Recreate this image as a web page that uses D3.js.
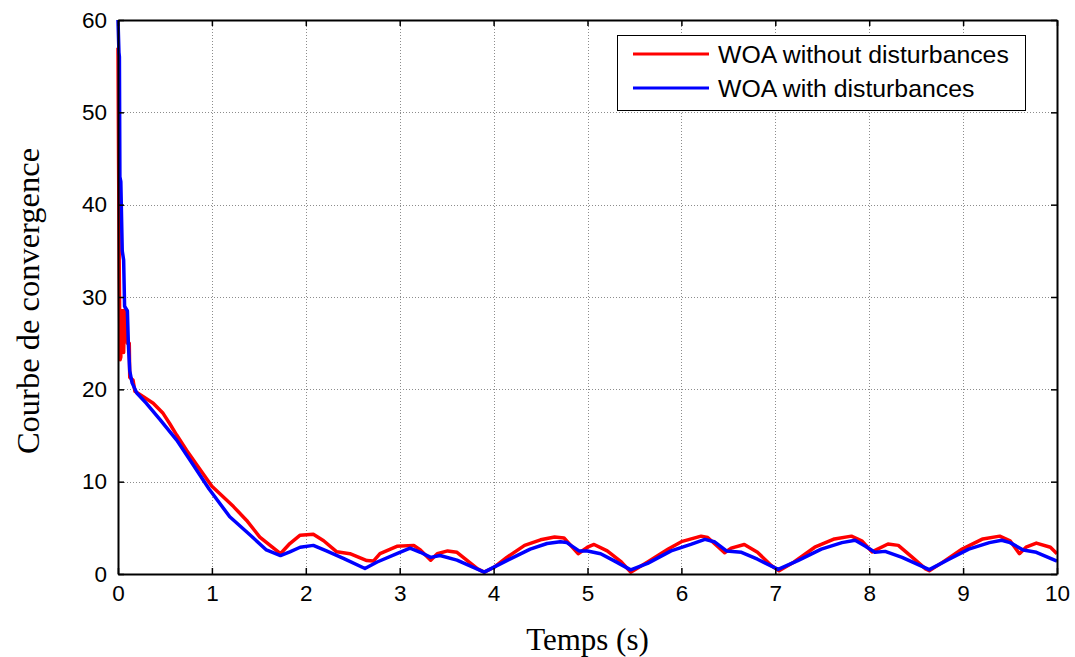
<!DOCTYPE html>
<html>
<head>
<meta charset="utf-8">
<script src="https://cdn.jsdelivr.net/npm/d3@7/dist/d3.min.js"></script>
<style>
  html, body { margin: 0; padding: 0; background: #fff; }
  svg { display: block; }
</style>
</head>
<body>
<svg id="chart" width="1075" height="657"></svg>
<script>
// Convergence curves of the WOA controller, time in seconds
const tRed = [0, 0.006, 0.014, 0.022, 0.03, 0.035, 0.055, 0.06, 0.07, 0.095, 0.1, 0.12, 0.125, 0.16, 0.18,
  0.27, 0.375, 0.48, 0.55, 0.625, 0.73, 0.84, 1.0, 1.23, 1.37, 1.51, 1.62, 1.73, 1.83, 1.94, 2.08, 2.19,
  2.33, 2.47, 2.65, 2.72, 2.79, 2.97, 3.15, 3.22, 3.33, 3.4, 3.51, 3.61, 3.72, 3.83, 3.9, 4.0, 4.14, 4.33,
  4.5, 4.65, 4.75, 4.9, 5.0, 5.07, 5.21, 5.36, 5.46, 5.64, 5.86, 6.0, 6.21, 6.28, 6.46, 6.53, 6.67, 6.81,
  6.96, 7.04, 7.2, 7.42, 7.63, 7.81, 7.92, 8.03, 8.2, 8.31, 8.46, 8.6, 8.64, 8.78, 8.99, 9.21, 9.39, 9.5,
  9.6, 9.67, 9.78, 9.93, 10];
const vRed = [57, 45, 32, 23.2, 23.5, 28.5, 28.5, 24, 28.6, 28.5, 25, 25, 21.3, 21, 19.8,
  19.2, 18.5, 17.4, 16.3, 15.05, 13.4, 11.8, 9.5, 7.3, 5.8, 4.0, 3.1, 2.2, 3.3, 4.2, 4.3, 3.6,
  2.4, 2.2, 1.45, 1.4, 2.2, 3.0, 3.1, 2.6, 1.5, 2.2, 2.5, 2.35, 1.45, 0.55, 0.2, 0.7, 1.8, 3.1,
  3.7, 4.0, 3.9, 2.2, 2.9, 3.2, 2.5, 1.3, 0.2, 1.3, 2.7, 3.5, 4.1, 3.95, 2.3, 2.8, 3.2, 2.35,
  0.9, 0.36, 1.3, 2.9, 3.8, 4.1, 3.6, 2.4, 3.25, 3.1, 1.8, 0.55, 0.36, 1.26, 2.7, 3.8, 4.1, 3.6,
  2.2, 2.9, 3.35, 2.9, 2.2];

const tBlue = [0, 0.01, 0.015, 0.02, 0.03, 0.045, 0.06, 0.07, 0.1, 0.11, 0.125, 0.15, 0.2, 0.3, 0.45,
  0.625, 0.77, 0.97, 1.19, 1.41, 1.58, 1.73, 1.83, 1.94, 2.08, 2.22, 2.4, 2.63, 2.76, 2.97, 3.11, 3.22,
  3.33, 3.43, 3.61, 3.9, 4.14, 4.39, 4.57, 4.71, 4.78, 4.91, 5.0, 5.14, 5.28, 5.46, 5.64, 5.89, 6.1,
  6.25, 6.35, 6.48, 6.64, 6.81, 7.03, 7.24, 7.49, 7.71, 7.85, 7.96, 8.06, 8.17, 8.35, 8.64, 8.85, 9.06,
  9.28, 9.41, 9.5, 9.64, 9.78, 10];
const vBlue = [60, 56.5, 56, 43, 42.5, 35, 34, 29, 28.5, 25, 22, 20.7, 19.6, 18.5, 16.7,
  14.5, 12.3, 9.2, 6.2, 4.2, 2.6, 2.0, 2.4, 2.9, 3.1, 2.5, 1.7, 0.6, 1.3, 2.2, 2.8, 2.35,
  1.8, 2.0, 1.5, 0.2, 1.45, 2.7, 3.3, 3.5, 3.4, 2.5, 2.5, 2.2, 1.45, 0.45, 1.15, 2.5, 3.2,
  3.75, 3.5, 2.5, 2.35, 1.6, 0.5, 1.45, 2.7, 3.4, 3.65, 3.0, 2.35, 2.45, 1.8, 0.47, 1.6, 2.7,
  3.4, 3.65, 3.4, 2.6, 2.35, 1.4];

const xTicks = [0, 1, 2, 3, 4, 5, 6, 7, 8, 9, 10];
const yTicks = [0, 10, 20, 30, 40, 50, 60];
const seriesNames = ["WOA without disturbances", "WOA with disturbances"];
const seriesColors = ["#ff0000", "#0000ff"];

const svg = d3.select("#chart");
const plotL = 118, plotR = 1057, plotT = 20, plotB = 574;

const x = d3.scaleLinear().domain([0, 10]).range([plotL, plotR]);
const y = d3.scaleLinear().domain([0, 60]).range([plotB, plotT]);

// dotted grid
const grid = svg.append("g").attr("stroke", "#8c8c8c").attr("stroke-width", 1)
  .attr("stroke-dasharray", "1,2");
xTicks.slice(1, -1).forEach(t => {
  grid.append("line").attr("x1", Math.round(x(t)) + 0.5).attr("x2", Math.round(x(t)) + 0.5)
    .attr("y1", plotT).attr("y2", plotB);
});
yTicks.slice(1, -1).forEach(t => {
  grid.append("line").attr("y1", Math.round(y(t)) + 0.5).attr("y2", Math.round(y(t)) + 0.5)
    .attr("x1", plotL).attr("x2", plotR);
});

// curves
const line = d3.line().x(d => x(d[0])).y(d => y(d[1]));
const redPts = tRed.map((t, i) => [t, vRed[i]]);
const bluePts = tBlue.map((t, i) => [t, vBlue[i]]);
svg.append("path").datum(redPts).attr("d", line).attr("fill", "none")
  .attr("stroke", seriesColors[0]).attr("stroke-width", 3.5).attr("stroke-linejoin", "round");
svg.append("path").datum(bluePts).attr("d", line).attr("fill", "none")
  .attr("stroke", seriesColors[1]).attr("stroke-width", 3.5).attr("stroke-linejoin", "round");

// axes with inward ticks on every side
const tickLen = 6;
const font = "'Liberation Sans', Arial, sans-serif";
const axB = svg.append("g").attr("transform", `translate(0,${plotB})`)
  .call(d3.axisBottom(x).tickValues(xTicks).tickSizeInner(-tickLen).tickSizeOuter(0).tickPadding(11));
const axT = svg.append("g").attr("transform", `translate(0,${plotT})`)
  .call(d3.axisTop(x).tickValues(xTicks).tickSizeInner(-tickLen).tickSizeOuter(0).tickFormat(""));
const axL = svg.append("g").attr("transform", `translate(${plotL},0)`)
  .call(d3.axisLeft(y).tickValues(yTicks).tickSizeInner(-tickLen).tickSizeOuter(0).tickPadding(11));
const axR = svg.append("g").attr("transform", `translate(${plotR},0)`)
  .call(d3.axisRight(y).tickValues(yTicks).tickSizeInner(-tickLen).tickSizeOuter(0).tickFormat(""));
[axB, axT, axL, axR].forEach(a => {
  a.selectAll(".domain").attr("stroke", "#000").attr("stroke-width", 2);
  a.selectAll(".tick line").attr("stroke", "#000").attr("stroke-width", 1.5);
  a.selectAll("text").attr("fill", "#000").style("font-family", font).style("font-size", "22.5px");
});

// axis titles
svg.append("text").attr("x", (plotL + plotR) / 2).attr("y", 650).attr("text-anchor", "middle")
  .style("font-family", "'Liberation Serif', 'Times New Roman', serif").style("font-size", "31px")
  .text("Temps (s)");
svg.append("text").attr("transform", `translate(39,301) rotate(-90)`)
  .attr("text-anchor", "middle")
  .style("font-family", "'Liberation Serif', 'Times New Roman', serif").style("font-size", "32.5px")
  .text("Courbe de convergence");

// legend
const lg = svg.append("g");
lg.append("rect").attr("x", 617.5).attr("y", 35.5).attr("width", 408).attr("height", 75)
  .attr("fill", "#fff").attr("stroke", "#000").attr("stroke-width", 1);
seriesNames.forEach((name, i) => {
  const yy = 54 + i * 34;
  lg.append("line").attr("x1", 633).attr("x2", 709).attr("y1", yy).attr("y2", yy)
    .attr("stroke", seriesColors[i]).attr("stroke-width", 3);
  lg.append("text").attr("x", 718).attr("y", yy).attr("dy", "0.35em")
    .style("font-family", font).style("font-size", "24.8px").text(name);
});
</script>
</body>
</html>
